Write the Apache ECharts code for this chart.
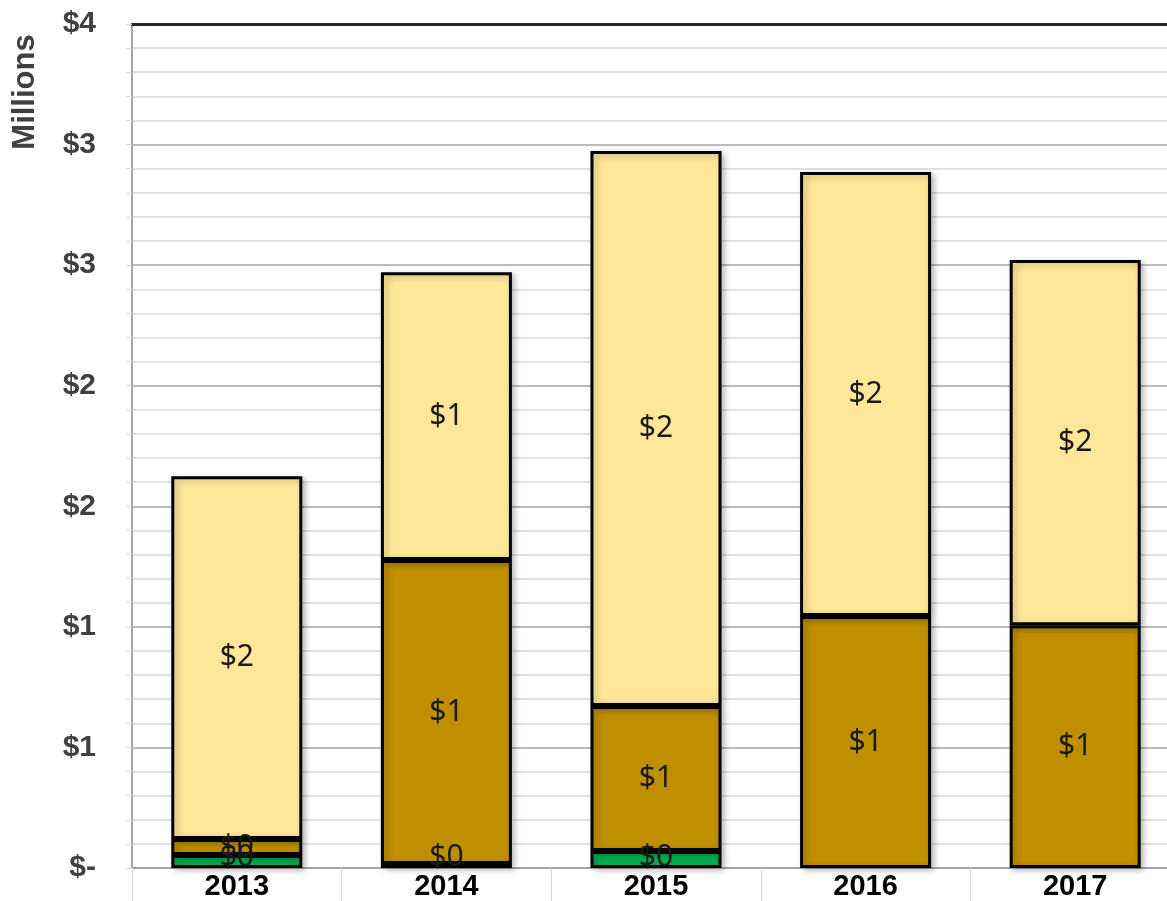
<!DOCTYPE html>
<html>
<head>
<meta charset="utf-8">
<script src="https://cdn.jsdelivr.net/npm/echarts@6/dist/echarts.min.js"></script>
<style>
  html, body { margin: 0; padding: 0; background: #fff; }
  #main { width: 1167px; height: 901px; }
</style>
</head>
<body>
<div id="main"></div>
<script>
// values in millions of dollars
var years = ['2013', '2014', '2015', '2016', '2017'];
var greenVals = [0.054, 0.017, 0.070, null, null];
var goldVals = [0.066, 1.26, 0.602, 1.045, 1.007];
var lightVals = [1.505, 1.194, 2.301, 1.841, 1.514];

var yMin = 0, yMax = 3.5, yStep = 0.5;

var chartH = 901, gridBottom = 33;

var myChart = echarts.init(document.getElementById('main'));

function money(v) {
    return '$' + Math.round(v);
}

function barSeries(name, data, color) {
    return {
        name: name,
        type: 'bar',
        stack: 'total',
        barWidth: 131,
        data: data,
        itemStyle: {
            color: color,
            borderColor: '#000',
            borderWidth: 3,
            shadowColor: 'rgba(0,0,0,0.25)',
            shadowBlur: 6,
            shadowOffsetX: 3,
            shadowOffsetY: 2
        },
        label: {
            show: true,
            position: 'inside',
            fontFamily: 'Noto Sans',
            fontSize: 30,
            color: '#1a1a1a',
            formatter: function (p) { return money(p.value); }
        },
        // keep labels of thin segments above the axis, like Excel does
        labelLayout: function (params) {
            var r = params.labelRect;
            var limit = chartH - gridBottom + 4;
            var over = r.y + r.height - limit;
            return over > 0 ? { dy: -over } : {};
        }
    };
}

myChart.setOption({
    animation: false,
    grid: { left: 132, top: 24, bottom: gridBottom, width: 1048, outerBoundsMode: 'none' },
    xAxis: [{
        type: 'category',
        data: years,
        axisLine: { lineStyle: { color: '#a6a6a6', width: 2 } },
        axisTick: { show: true, interval: 0, length: 33, lineStyle: { color: '#d9d9d9', width: 1 } },
        axisLabel: {
            fontFamily: 'Liberation Sans',
            fontWeight: 'bold',
            fontSize: 29,
            color: '#000',
            margin: 4
        }
    }, {
        type: 'category',
        position: 'top',
        data: years,
        axisLine: { lineStyle: { color: '#262626', width: 3 } },
        axisTick: { show: false },
        axisLabel: { show: false }
    }],
    yAxis: {
        type: 'value',
        min: yMin,
        max: yMax,
        interval: yStep,
        axisLine: { show: true, lineStyle: { color: '#a6a6a6', width: 2 } },
        axisTick: { show: true, length: 6, lineStyle: { color: '#d9d9d9' } },
        minorTick: { show: true, splitNumber: 5, length: 6, lineStyle: { color: '#d9d9d9' } },
        splitLine: { lineStyle: { color: '#a6a6a6', width: 1.5 } },
        minorSplitLine: { show: true, lineStyle: { color: '#d9d9d9', width: 1.5 } },
        axisLabel: {
            fontFamily: 'Liberation Sans',
            fontWeight: 'bold',
            fontSize: 30,
            color: '#404040',
            margin: 36,
            formatter: function (v) { return v === 0 ? '$-' : money(v); }
        }
    },
    graphic: [{
        type: 'text',
        x: 25,
        y: 92,
        rotation: Math.PI / 2,
        style: {
            text: 'Millions',
            fontFamily: 'Liberation Sans',
            fontWeight: 'bold',
            fontSize: 31,
            fill: '#404040',
            textAlign: 'center',
            textVerticalAlign: 'middle'
        }
    }],
    series: [
        barSeries('Green', greenVals, '#00b050'),
        barSeries('Gold', goldVals, '#bf8f00'),
        barSeries('Light', lightVals, '#ffe699')
    ]
});
</script>
</body>
</html>
